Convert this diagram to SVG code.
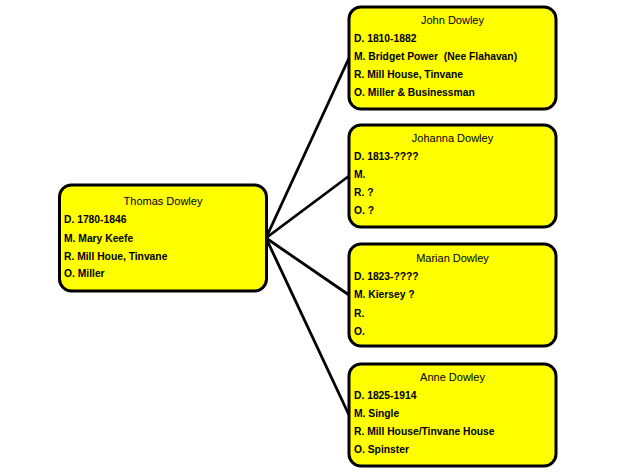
<svg xmlns="http://www.w3.org/2000/svg" width="620" height="472" viewBox="0 0 620 472">
<style>
.box{fill:#FFFF00;stroke:#000;stroke-width:3}
.t{font-family:"Liberation Sans",Arial,sans-serif;font-size:11px;fill:#000;text-anchor:middle}
.l{font-family:"Liberation Sans",Arial,sans-serif;font-size:10.3px;font-weight:bold;fill:#000}
.c{stroke:#000;stroke-width:2.8;fill:none}
</style>
<rect width="620" height="472" fill="#fff"/>
<g id="connectors">
<line class="c" x1="266" y1="238" x2="349" y2="58"/>
<line class="c" x1="266" y1="238" x2="349" y2="176"/>
<line class="c" x1="266" y1="238" x2="349" y2="295"/>
<line class="c" x1="266" y1="238" x2="349" y2="415"/>
</g>
<g id="thomas">
<rect class="box" x="59.5" y="185" width="207" height="106" rx="12"/>
<text class="t" x="163" y="205">Thomas Dowley</text>
<text class="l" x="64" y="223">D. 1780-1846</text>
<text class="l" x="64" y="241.5">M. Mary Keefe</text>
<text class="l" x="64" y="259.5">R. Mill Houe, Tinvane</text>
<text class="l" x="64" y="277">O. Miller</text>
</g>
<g id="john">
<rect class="box" x="349" y="7" width="207" height="102" rx="12"/>
<text class="t" x="452.5" y="24">John Dowley</text>
<text class="l" x="354" y="42">D. 1810-1882</text>
<text class="l" x="354" y="60" xml:space="preserve">M. Bridget Power  (Nee Flahavan)</text>
<text class="l" x="354" y="78">R. Mill House, Tinvane</text>
<text class="l" x="354" y="96">O. Miller &amp; Businessman</text>
</g>
<g id="johanna">
<rect class="box" x="349" y="125" width="207" height="102" rx="12"/>
<text class="t" x="452.5" y="142">Johanna Dowley</text>
<text class="l" x="354" y="160">D. 1813-????</text>
<text class="l" x="354" y="178">M.</text>
<text class="l" x="354" y="196">R. ?</text>
<text class="l" x="354" y="214">O. ?</text>
</g>
<g id="marian">
<rect class="box" x="349" y="244" width="207" height="102" rx="12"/>
<text class="t" x="452.5" y="261.5">Marian Dowley</text>
<text class="l" x="354" y="279.5">D. 1823-????</text>
<text class="l" x="354" y="298">M. Kiersey ?</text>
<text class="l" x="354" y="316.5">R.</text>
<text class="l" x="354" y="334.5">O.</text>
</g>
<g id="anne">
<rect class="box" x="349" y="364" width="207" height="102" rx="12"/>
<text class="t" x="452.5" y="381">Anne Dowley</text>
<text class="l" x="354" y="398.5">D. 1825-1914</text>
<text class="l" x="354" y="416.5">M. Single</text>
<text class="l" x="354" y="435">R. Mill House/Tinvane House</text>
<text class="l" x="354" y="453">O. Spinster</text>
</g>
</svg>
